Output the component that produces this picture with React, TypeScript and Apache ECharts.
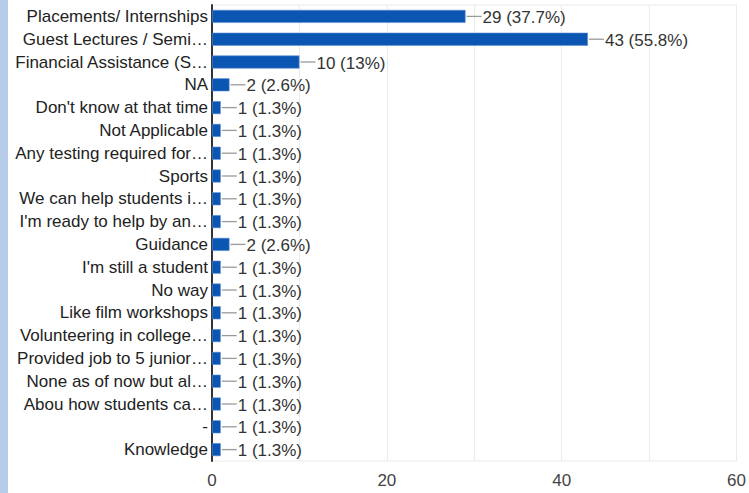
import React, { useEffect, useRef } from "react";
import * as echarts from "echarts";

const categories = [
  "Placements/ Internships",
  "Guest Lectures / Semi…",
  "Financial Assistance (S…",
  "NA",
  "Don't know at that time",
  "Not Applicable",
  "Any testing required for…",
  "Sports",
  "We can help students i…",
  "I'm ready to help by an…",
  "Guidance",
  "I'm still a student",
  "No way",
  "Like film workshops",
  "Volunteering in college…",
  "Provided job to 5 junior…",
  "None as of now but al…",
  "Abou how students ca…",
  "-",
  "Knowledge",
];

const counts = [29, 43, 10, 2, 1, 1, 1, 1, 1, 1, 2, 1, 1, 1, 1, 1, 1, 1, 1, 1];
const percents = [
  "37.7%", "55.8%", "13%", "2.6%", "1.3%", "1.3%", "1.3%", "1.3%", "1.3%", "1.3%",
  "2.6%", "1.3%", "1.3%", "1.3%", "1.3%", "1.3%", "1.3%", "1.3%", "1.3%", "1.3%",
];
const xTicks = [0, 10, 20, 30, 40, 50, 60];

const FONT = "'Liberation Sans', Arial, sans-serif";
const FS = 17;

export default function App() {
  const ref = useRef<HTMLDivElement>(null);
  useEffect(() => {
    if (!ref.current) return;
    const chart = echarts.init(ref.current, undefined, { renderer: "svg" });
    chart.setOption({
      animation: false,
      textStyle: { fontFamily: FONT },
      graphic: [
        {
          type: "rect",
          left: 0,
          top: 0,
          shape: { width: 8, height: 493 },
          style: { fill: "#b6cce9" },
          silent: true,
        },
      ],
      grid: {
        left: 212,
        right: 11,
        top: 5,
        bottom: 32,
        show: true,
        borderColor: "#ebebeb",
        borderWidth: 1,
      },
      xAxis: {
        type: "value",
        min: xTicks[0],
        max: xTicks[xTicks.length - 1],
        interval: 10,
        axisLine: { show: false },
        axisTick: { show: false },
        splitLine: { show: true, lineStyle: { color: "#ebebeb", width: 1 } },
        axisLabel: {
          color: "#444",
          fontSize: FS,
          fontFamily: FONT,
          margin: 11,
          formatter: (v: number) => (v % 20 === 0 ? String(v) : ""),
        },
      },
      yAxis: {
        type: "category",
        data: categories,
        inverse: true,
        axisTick: { show: false },
        axisLine: { show: true, lineStyle: { color: "#333", width: 2 } },
        splitLine: { show: false },
        axisLabel: {
          color: "#222",
          fontSize: FS,
          fontFamily: FONT,
          margin: 4,
        },
      },
      series: [
        {
          type: "bar",
          data: counts,
          barWidth: 13,
          itemStyle: { color: "#0b55b3", borderColor: "#5d8fd4", borderWidth: 0.6 },
          z: 2,
        },
        {
          type: "custom",
          data: counts.map((c, i) => [c, i]),
          encode: { x: 0, y: 1 },
          z: 3,
          renderItem: (params: any, api: any) => {
            const v = api.value(0);
            const idx = api.value(1);
            const p = api.coord([v, idx]);
            const x0 = p[0] + 1;
            return {
              type: "group",
              children: [
                {
                  type: "line",
                  shape: { x1: x0, y1: p[1], x2: x0 + 15, y2: p[1] },
                  style: { stroke: "#9a9a9a", lineWidth: 1.3 },
                },
                {
                  type: "text",
                  x: x0 + 16,
                  y: p[1] + 1,
                  style: {
                    text: `${counts[idx]} (${percents[idx]})`,
                    fill: "#333",
                    font: `${FS}px ${FONT}`,
                    verticalAlign: "middle",
                    align: "left",
                  },
                },
              ],
            };
          },
        },
      ],
    });
    return () => chart.dispose();
  }, []);
  return <div ref={ref} style={{ width: 749, height: 493, position: "absolute", left: 0, top: 0 }} />;
}
